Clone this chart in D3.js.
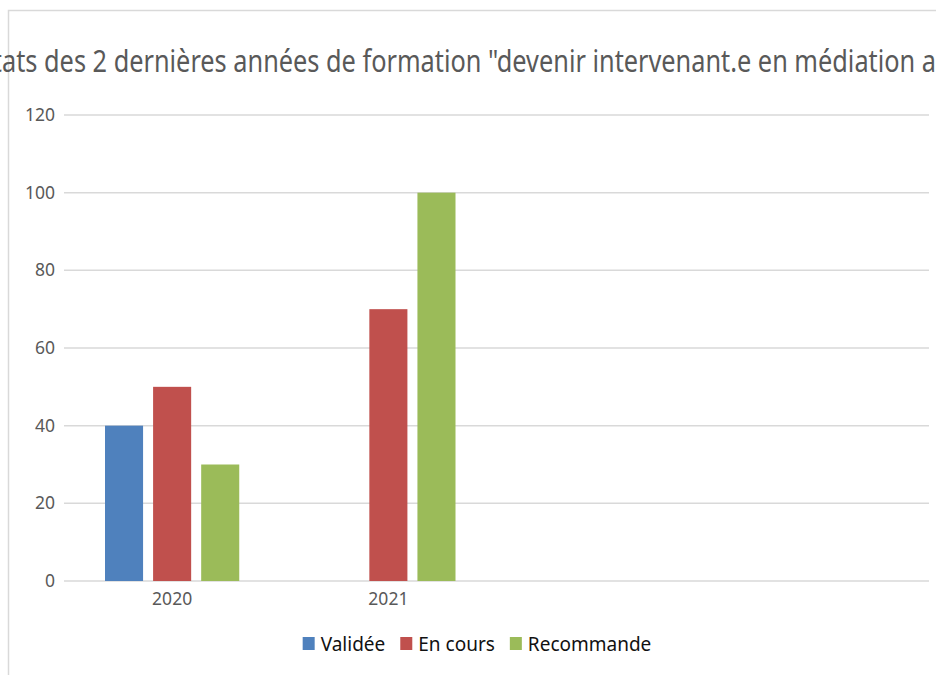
<!DOCTYPE html>
<meta charset="utf-8">
<style>
html, body { margin: 0; padding: 0; background: #fff; }
svg { display: block; font-family: "Noto Sans", "Open Sans", sans-serif; }
.grid line { stroke: #d9d9d9; stroke-width: 1.5px; }
.axis text { fill: #595959; font-size: 17.5px; font-family: "Noto Sans", "Open Sans", sans-serif; }
.legend text { fill: #111; font-size: 19px; }
</style>
<svg id="chart"></svg>
<script src="https://d3js.org/d3.v7.min.js"></script>
<script>

var width = 936;
var height = 675;

// data
var title = 'Résultats des 2 dernières années de formation "devenir intervenant.e en médiation animale"';
var categories = ['2020', '2021', '', ''];
var series = ['Validée', 'En cours', 'Recommande'];
var validee = [40, null];
var enCours = [50, 70];
var recommande = [30, 100];
var colors = ['#4f81bd', '#c0504d', '#9bbb59'];
var yTicks = [0, 20, 40, 60, 80, 100, 120];

var values = [validee, enCours, recommande];
var margin = {left: 64, right: 7, top: 115, bottom: 94};

var svg = d3.select('#chart')
  .attr('width', width)
  .attr('height', height);

// chart frame
svg.append('path')
  .attr('d', 'M8.5,' + height + 'V10.5H' + width)
  .attr('fill', 'none')
  .attr('stroke', '#d9d9d9')
  .attr('stroke-width', 1.5);

var x = d3.scaleBand()
  .domain(d3.range(categories.length))
  .range([margin.left, width - margin.right])
  .paddingInner(0)
  .paddingOuter(0);

var x1 = d3.scaleBand()
  .domain(series)
  .range([41, x.bandwidth() - 41])
  .paddingInner(10 / 48);

var y = d3.scaleLinear()
  .domain([0, 120])
  .range([height - margin.bottom, margin.top]);

svg.append('g')
  .attr('class', 'grid')
  .selectAll('line')
  .data(yTicks)
  .enter().append('line')
  .attr('x1', margin.left)
  .attr('x2', width - margin.right)
  .attr('y1', function (d) { return y(d); })
  .attr('y2', function (d) { return y(d); });

var yAxis = svg.append('g')
  .attr('class', 'axis')
  .attr('transform', 'translate(' + (margin.left - 2) + ',0)')
  .call(d3.axisLeft(y).tickValues(yTicks).tickSize(0).tickPadding(7));
yAxis.select('.domain').remove();

var xAxis = svg.append('g')
  .attr('class', 'axis')
  .attr('transform', 'translate(0,' + y(0) + ')')
  .call(d3.axisBottom(x).tickSize(0).tickPadding(12)
    .tickFormat(function (i) { return categories[i]; }));
xAxis.select('.domain').remove();

var groups = svg.append('g')
  .selectAll('g')
  .data(series)
  .enter().append('g')
  .attr('fill', function (d, i) { return colors[i]; });

groups.selectAll('rect')
  .data(function (s, si) {
    return values[si].map(function (v, ci) { return {s: s, c: ci, v: v}; })
      .filter(function (d) { return d.v != null; });
  })
  .enter().append('rect')
  .attr('x', function (d) { return x(d.c) + x1(d.s); })
  .attr('width', x1.bandwidth())
  .attr('y', function (d) { return y(d.v); })
  .attr('height', function (d) { return y(0) - y(d.v); });

// title, cropped at both sides like the original (squeezed to a Calibri-like width)
var fs = 31;
var probe = svg.append('text').attr('font-size', fs);
var prefixW = probe.text('Résult').node().getComputedTextLength();
var visibleW = probe.text('ats des 2 dernières années de formation "devenir intervenant.e en médiation a')
  .node().getComputedTextLength();
var fullW = probe.text(title).node().getComputedTextLength();
probe.remove();
var k = 934 / visibleW;
svg.append('text')
  .attr('fill', '#595959')
  .attr('font-size', fs)
  .attr('y', 72)
  .attr('x', 2 - prefixW * k)
  .attr('textLength', fullW * k)
  .attr('lengthAdjust', 'spacingAndGlyphs')
  .text(title);

// legend
var legend = svg.append('g').attr('class', 'legend');
var lx = 0;
series.forEach(function (s, i) {
  var g = legend.append('g').attr('transform', 'translate(' + lx + ',0)');
  g.append('rect')
    .attr('y', -7).attr('width', 12).attr('height', 13)
    .attr('fill', colors[i]);
  var t = g.append('text')
    .attr('x', 18).attr('dy', '0.35em')
    .text(s);
  lx += 18 + t.node().getComputedTextLength() + 15;
});
lx -= 15;
legend.attr('transform', 'translate(' + (477 - lx / 2) + ',644)');

</script>
